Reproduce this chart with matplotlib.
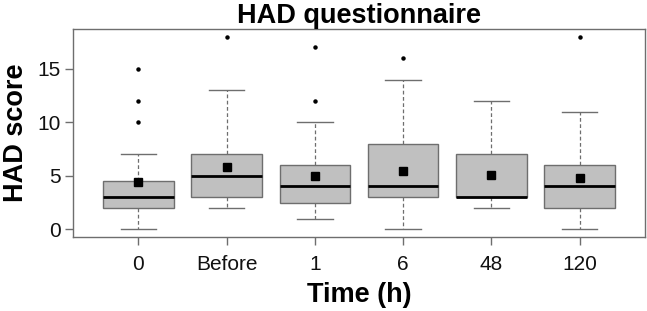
import matplotlib.pyplot as plt

plt.rcParams['font.family'] = ['Liberation Sans', 'DejaVu Sans']

labels = ['0', 'Before', '1', '6', '48', '120']
whislo = [0, 2, 1, 0, 2, 0]
q1 = [2, 3, 2.5, 3, 3, 2]
med = [3, 5, 4, 4, 3, 4]
q3 = [4.5, 7, 6, 8, 7, 6]
whishi = [7, 13, 10, 14, 12, 11]
means = [4.4, 5.8, 4.97, 5.45, 5.1, 4.82]
fliers = [[10, 12, 15], [18], [12, 17], [16], [], [18]]

stats = []
for i in range(len(labels)):
    stats.append(dict(label=labels[i], whislo=whislo[i], q1=q1[i], med=med[i],
                      q3=q3[i], whishi=whishi[i], mean=means[i], fliers=fliers[i]))

fig = plt.figure(figsize=(6.47, 3.11), dpi=100)
ax = fig.add_axes([73 / 647, 1 - 237 / 311, (645 - 73) / 647, (237 - 29) / 311])

gray = '#6e6e6e'
ax.bxp(stats, positions=range(1, 7), widths=0.8, patch_artist=True,
       showmeans=True, showfliers=True,
       boxprops=dict(facecolor='#c0c0c0', edgecolor=gray, linewidth=1),
       medianprops=dict(color='black', linewidth=2),
       whiskerprops=dict(color=gray, linestyle=(0, (3, 2)), linewidth=0.9),
       capprops=dict(color=gray, linewidth=1),
       capwidths=0.4,
       meanprops=dict(marker='s', markerfacecolor='black', markeredgecolor='black', markersize=6),
       flierprops=dict(marker='o', markerfacecolor='black', markeredgecolor='black', markersize=2.2))

ax.set_xlim(0.26, 6.74)
ax.set_ylim(-0.72, 18.72)
ax.set_yticks([0, 5, 10, 15])
ax.set_xticks(range(1, 7))
ax.set_xticklabels(labels)
ax.tick_params(axis='both', labelsize=15, colors=gray, labelcolor='#111111', length=6, width=1)
ax.tick_params(axis='x', pad=7)
ax.tick_params(axis='y', pad=3)
for s in ax.spines.values():
    s.set_color(gray)
    s.set_linewidth(1)

ax.set_title('HAD questionnaire', fontsize=19.5, fontweight='bold', pad=4)
ax.set_ylabel('HAD score', fontsize=19.5, fontweight='bold', labelpad=6)
ax.set_xlabel('Time (h)', fontsize=19.5, fontweight='bold', labelpad=6)

fig.savefig('out.png', dpi=100)
